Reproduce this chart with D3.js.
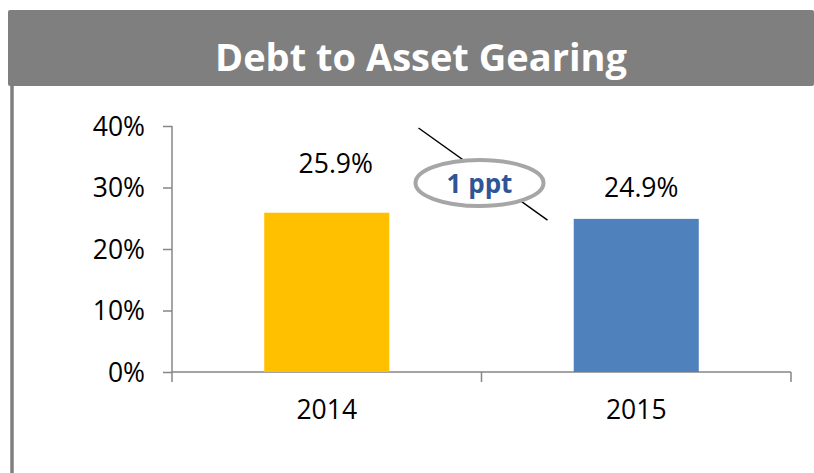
<!DOCTYPE html>
<html>
<head>
<meta charset="utf-8">
<script src="https://cdn.jsdelivr.net/npm/d3@7"></script>
<style>
  body { margin: 0; background: #fff; }
  text { font-family: "Open Sans", "Noto Sans", sans-serif; }
</style>
</head>
<body>
<div class="chart"></div>
<script>
// chart data
var title = "Debt to Asset Gearing";
var years = ["2014", "2015"];
var gearing = [0.259, 0.249];
var barColors = ["#ffc000", "#4f81bd"];
var yTicks = [0, 0.1, 0.2, 0.3, 0.4];
var changeLabel = "1 ppt";

var W = 814, H = 473;

var svg = d3.select(".chart").append("svg")
    .attr("width", W)
    .attr("height", H);

// title banner + left rule
svg.append("rect")
    .attr("x", 8).attr("y", 10)
    .attr("width", W - 8).attr("height", 76)
    .attr("rx", 2)
    .attr("fill", "#7f7f7f");

svg.append("line")
    .attr("x1", 12).attr("x2", 12)
    .attr("y1", 86).attr("y2", H)
    .attr("stroke", "#7f7f7f")
    .attr("stroke-width", 3.5);

svg.append("text")
    .attr("x", 421).attr("y", 71)
    .attr("text-anchor", "middle")
    .attr("fill", "#fff")
    .style("font-size", "38px")
    .style("font-weight", "bold")
    .text(title);

var x = d3.scaleBand()
    .domain(years)
    .range([172, 791])
    .paddingInner(0.596)
    .paddingOuter(0.298);

var y = d3.scaleLinear()
    .domain([0, 0.4])
    .range([372, 126]);

var axisColor = "#868686";

// y axis
var yAxis = svg.append("g")
    .attr("transform", "translate(172,0)")
    .call(d3.axisLeft(y).tickValues(yTicks).tickFormat(d3.format(".0%")).tickSize(9).tickPadding(18));
yAxis.selectAll("path, line").attr("stroke", axisColor).attr("stroke-width", 1.5);
yAxis.select(".domain").attr("d", "M0," + y(0.4) + "V" + y(0));
yAxis.selectAll("text")
    .attr("fill", "#000")
    .style("font-size", "26.5px")
    .attr("dy", "0.35em");

// x axis: ticks at the band edges
var edges = years.map(function(d) { return x(d) - x.step() * x.paddingInner() / 2; });
edges.push(791);
var xg = svg.append("g");
xg.append("line")
    .attr("x1", 172).attr("x2", 791)
    .attr("y1", y(0)).attr("y2", y(0))
    .attr("stroke", axisColor).attr("stroke-width", 1.5);
xg.selectAll(".tick").data(edges).enter().append("line")
    .attr("x1", function(d) { return d; }).attr("x2", function(d) { return d; })
    .attr("y1", y(0)).attr("y2", y(0) + 10)
    .attr("stroke", axisColor).attr("stroke-width", 1.5);
xg.selectAll(".lbl").data(years).enter().append("text")
    .attr("x", function(d) { return x(d) + x.bandwidth() / 2; })
    .attr("y", y(0) + 47)
    .attr("text-anchor", "middle")
    .style("font-size", "26.5px")
    .text(function(d) { return d; });

// bars
svg.selectAll(".bar").data(gearing).enter().append("rect")
    .attr("x", function(d, i) { return x(years[i]); })
    .attr("y", function(d) { return y(d); })
    .attr("width", x.bandwidth())
    .attr("height", function(d) { return y(0) - y(d); })
    .attr("fill", function(d, i) { return barColors[i]; });

// value labels (hand-placed in the original around the callout)
var labelLift = [40, 22];
var labelShift = [9, 5];
svg.selectAll(".val").data(gearing).enter().append("text")
    .attr("x", function(d, i) { return x(years[i]) + x.bandwidth() / 2 + labelShift[i]; })
    .attr("y", function(d, i) { return y(d) - labelLift[i]; })
    .attr("text-anchor", "middle")
    .style("font-size", "26.5px")
    .text(function(d) { return d3.format(".1%")(d); });

// change callout
var mid = edges[1] - 2;
svg.append("line")
    .attr("x1", mid - 61).attr("y1", y(0.4) + 2)
    .attr("x2", mid + 68).attr("y2", y(0.247))
    .attr("stroke", "#000").attr("stroke-width", 1.5);

svg.append("ellipse")
    .attr("cx", mid).attr("cy", 183)
    .attr("rx", 64).attr("ry", 23)
    .attr("fill", "#fff")
    .attr("stroke", "#a6a6a6")
    .attr("stroke-width", 4);

svg.append("text")
    .attr("x", mid).attr("y", 193)
    .attr("text-anchor", "middle")
    .attr("fill", "#2f5597")
    .style("font-size", "26px")
    .style("font-weight", "bold")
    .text(changeLabel);
</script>
</body>
</html>
